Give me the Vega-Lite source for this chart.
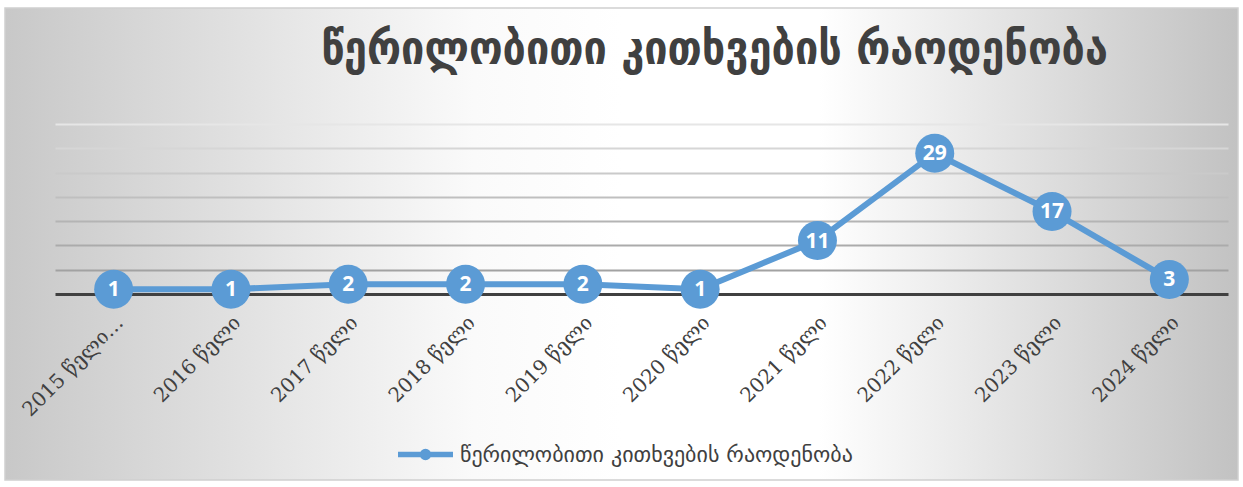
{
  "$schema": "https://vega.github.io/schema/vega-lite/v6.json",
  "width": 1233,
  "height": 472,
  "autosize": {"type": "none"},
  "padding": {"left": 5, "top": 8, "right": 5, "bottom": 7},
  "background": "white",
  "config": {
    "view": {
      "fill": {
        "gradient": "linear",
        "x1": 0, "y1": 0, "x2": 1, "y2": 0,
        "stops": [
          {"offset": 0, "color": "#c8c8c8"},
          {"offset": 0.38, "color": "#fafafa"},
          {"offset": 0.5, "color": "#ffffff"},
          {"offset": 0.66, "color": "#ffffff"},
          {"offset": 1, "color": "#c2c2c2"}
        ]
      },
      "stroke": "#d0d0d0",
      "strokeWidth": 1.5
    }
  },
  "title": {
    "text": "წერილობითი კითხვების რაოდენობა",
    "font": "DejaVu Sans Condensed",
    "fontSize": 46,
    "fontWeight": "bold",
    "color": "#404040",
    "anchor": "middle",
    "dx": 93,
    "offset": -66
  },
  "data": {
    "values": [
      {"year": "2015 წელი…", "count": 1, "series": "წერილობითი კითხვების რაოდენობა"},
      {"year": "2016 წელი", "count": 1, "series": "წერილობითი კითხვების რაოდენობა"},
      {"year": "2017 წელი", "count": 2, "series": "წერილობითი კითხვების რაოდენობა"},
      {"year": "2018 წელი", "count": 2, "series": "წერილობითი კითხვების რაოდენობა"},
      {"year": "2019 წელი", "count": 2, "series": "წერილობითი კითხვების რაოდენობა"},
      {"year": "2020 წელი", "count": 1, "series": "წერილობითი კითხვების რაოდენობა"},
      {"year": "2021 წელი", "count": 11, "series": "წერილობითი კითხვების რაოდენობა"},
      {"year": "2022 წელი", "count": 29, "series": "წერილობითი კითხვების რაოდენობა"},
      {"year": "2023 წელი", "count": 17, "series": "წერილობითი კითხვების რაოდენობა"},
      {"year": "2024 წელი", "count": 3, "series": "წერილობითი კითხვების რაოდენობა"}
    ]
  },
  "encoding": {
    "x": {
      "field": "year",
      "type": "ordinal",
      "sort": null,
      "scale": {"type": "point", "range": [50, 1223], "padding": 0.5},
      "axis": {
        "title": null,
        "offset": -186,
        "labelAngle": -45,
        "labelAlign": "right",
        "labelBaseline": "middle",
        "labelPadding": 25,
        "labelOffset": 6,
        "labelFont": "DejaVu Serif",
        "labelFontSize": 20,
        "labelColor": "#404040",
        "labelLimit": 0,
        "ticks": false,
        "grid": false,
        "domainColor": "#404040",
        "domainWidth": 3
      }
    },
    "y": {
      "field": "count",
      "type": "quantitative",
      "scale": {"domain": [-38.3, 58.9], "nice": false, "zero": false},
      "axis": {
        "values": [5, 10, 15, 20, 25, 30, 35],
        "labels": false,
        "ticks": false,
        "domain": false,
        "title": null,
        "grid": true,
        "gridWidth": 2,
        "gridColor": {
          "condition": [
            {"test": "datum.value >= 35", "value": "#e6e6e6"},
            {"test": "datum.value >= 30", "value": "#d6d6d6"},
            {"test": "datum.value >= 25", "value": "#cacaca"},
            {"test": "datum.value >= 20", "value": "#bfbfbf"},
            {"test": "datum.value >= 15", "value": "#b4b4b4"},
            {"test": "datum.value >= 10", "value": "#ababab"}
          ],
          "value": "#a2a2a2"
        }
      }
    }
  },
  "layer": [
    {
      "mark": {"type": "line", "strokeWidth": 6},
      "encoding": {
        "color": {
          "field": "series",
          "type": "nominal",
          "scale": {"range": ["#5b9bd5"]},
          "legend": {
            "title": null,
            "orient": "none",
            "legendX": 390,
            "legendY": 416,
            "labelFont": "DejaVu Sans",
            "labelFontSize": 22,
            "labelColor": "#404040",
            "labelLimit": 0,
            "labelOffset": 4,
            "symbolType": "M-1,0L1,0M-0.11,0A0.11,0.11,0,1,0,0.11,0A0.11,0.11,0,1,0,-0.11,0",
            "symbolSize": 3025,
            "symbolStrokeWidth": 5.5,
            "symbolFillColor": "#5b9bd5",
            "symbolStrokeColor": "#5b9bd5"
          }
        }
      }
    },
    {
      "mark": {"type": "circle", "size": 1520, "opacity": 1, "color": "#5b9bd5"}
    },
    {
      "mark": {"type": "text", "color": "white", "fontSize": 21, "fontWeight": "bold", "font": "Open Sans", "baseline": "middle", "dy": 1},
      "encoding": {"text": {"field": "count", "type": "quantitative"}}
    }
  ]
}
